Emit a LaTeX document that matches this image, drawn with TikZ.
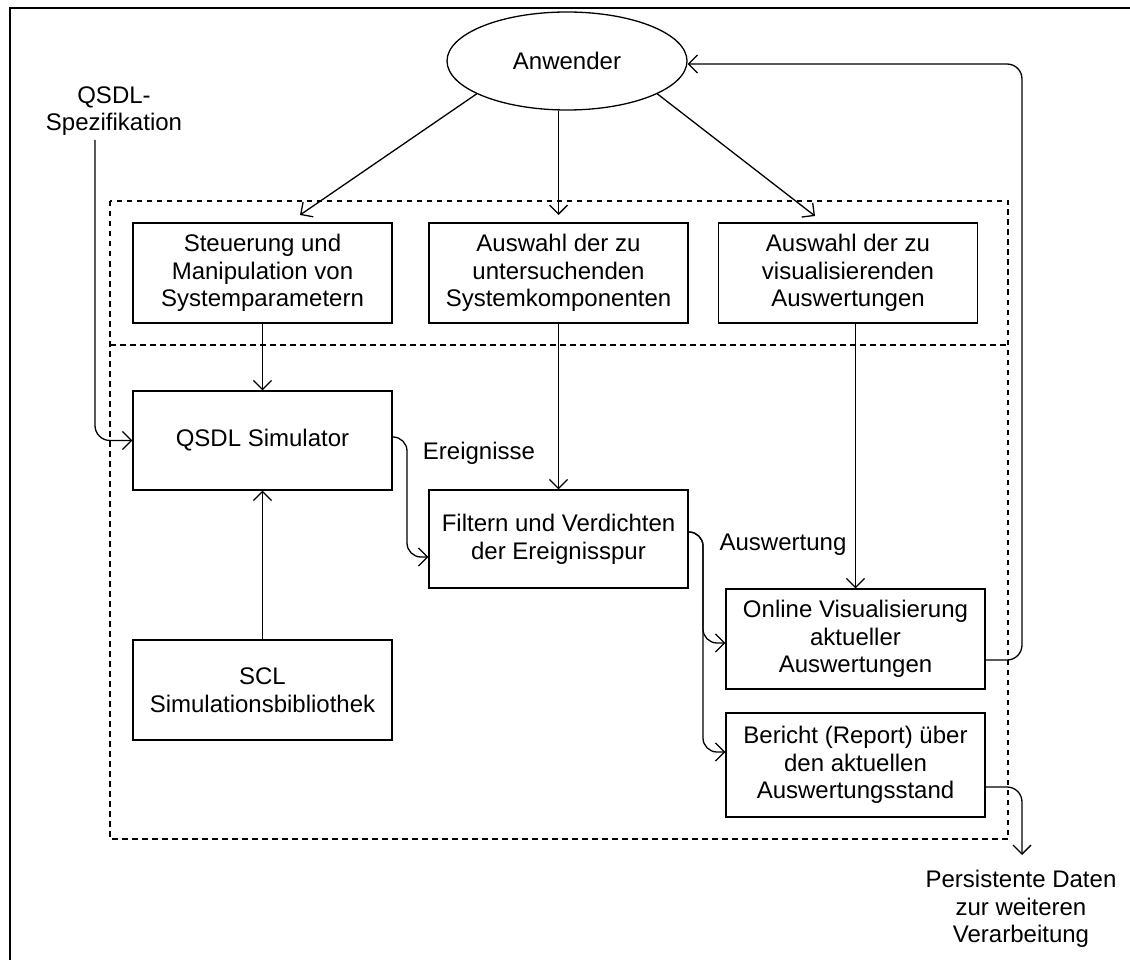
\documentclass[tikz,border=0pt]{standalone}
\usepackage{fontspec}
\setmainfont{Liberation Sans}
\usetikzlibrary{arrows.meta,shapes.geometric}
\begin{document}
\begin{tikzpicture}[x=1pt,y=-1pt,
  font=\fontsize{24}{27.6}\selectfont,
  box/.style={draw, line width=1.3pt, minimum width=259pt, minimum height=100pt, align=center, inner sep=0pt},
  lbl/.style={align=center, inner sep=0pt},
  conn/.style={line width=1.3pt, -{Straight Barb[length=9pt,width=18pt,line width=1.3pt]}},
  sep/.style={line width=2.8pt, dash pattern=on 5.5pt off 4.5pt},
  frame/.style={line width=2.8pt}]
\useasboundingbox (0,0) rectangle (1130,960);

% outer frame (only left and top edges lie inside the page)
\draw[frame] (10,970) -- (10,8) -- (1140,8);

% user
\node[ellipse, draw, line width=1.3pt, minimum width=240pt, minimum height=98pt, inner sep=0pt] (user) at (567,61) {Anwender};

% input specification
\node[lbl] (spec) at (114,111) {QSDL-\\Spezifikation};
\coordinate (specfoot) at (95,140);

% dotted regions
\draw[sep] (110,201) rectangle (1008,839);
\draw[sep] (110,345) -- (1008,345);

% user interaction boxes
\node[box] (steu) at (262.5,273) {Steuerung und\\Manipulation von\\Systemparametern};
\node[box] (ausw) at (558.5,273) {Auswahl der zu\\untersuchenden\\Systemkomponenten};
\node[box] (visu) at (848,273) {Auswahl der zu\\visualisierenden\\Auswertungen};

% processing boxes
\node[box, minimum height=99pt] (sim) at (262.5,440.5) {QSDL Simulator};
\node[box] (scl) at (262.5,690) {SCL\\Simulationsbibliothek};
\node[box, minimum height=98pt] (filt) at (558.5,539) {Filtern und Verdichten\\der Ereignisspur};
\node[box] (onl) at (855.5,639) {Online Visualisierung\\aktueller\\Auswertungen};
\node[box, minimum height=104pt] (ber) at (855.5,765) {Bericht (Report) über\\den aktuellen\\Auswertungsstand};

% labels
\node[lbl] (ereig) at (479,453) {Ereignisse};
\node[lbl] (awlbl) at (783,545) {Auswertung};
\node[lbl] (pers) at (1021,909) {Persistente Daten\\zur weiteren\\Verarbeitung};

% arrow tips above the interaction boxes
\coordinate (t1) at (300,215);
\coordinate (t2) at (558.5,215);
\coordinate (t3) at (815,216);
\coordinate (persin) at (1022,855);

% connectors from the user
\draw[conn] (user.200) -- (t1);
\draw[conn] (t2 |- user.south) -- (t2);
\draw[conn] (user.340) -- (t3);

% vertical flow
\draw[conn] (steu) -- (sim);
\draw[conn] (ausw) -- (filt);
\draw[conn] (onl.north |- visu.south) -- (onl.north);
\draw[conn] (scl) -- (sim);

% specification into simulator
\draw[conn, rounded corners=15pt] (specfoot) |- (sim.west);

% events into the filter
\draw[conn, rounded corners=14pt] ([yshift=3.5pt]sim.east) -- (407,437) |- ([yshift=-18pt]filt.west);

% evaluation to visualisation and report
\draw[conn, rounded corners=14pt] ([yshift=7pt]filt.east) -- (703,532) |- ([yshift=-4pt]onl.west);
\draw[conn, rounded corners=14pt] ([yshift=7pt]filt.east) -- (703,532) |- ([yshift=13pt]ber.west);

% feedback to the user
\draw[conn, rounded corners=15pt] ([yshift=-21pt]onl.east) -- (1022,660) -- (1022,64) -- ([yshift=-3pt]user.east);

% persistent output
\draw[conn, rounded corners=15pt] ([yshift=-22pt]ber.east) -- (1022,787) -- (persin);
\end{tikzpicture}
\end{document}
